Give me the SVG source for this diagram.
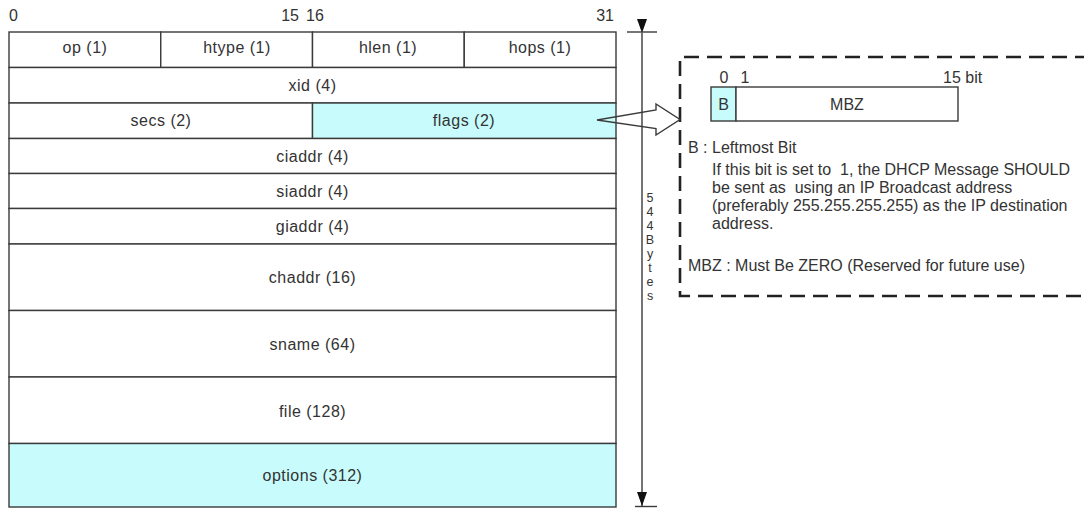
<svg xmlns="http://www.w3.org/2000/svg" width="1084" height="508" viewBox="0 0 1084 508">
<style>
text{font-family:"Liberation Sans",Arial,sans-serif;fill:#333}
.t{font-size:16px;letter-spacing:0.5px;text-anchor:middle}
.s{font-size:16px}
.h{font-size:16px}
.v{font-size:12.5px;text-anchor:middle}
.cell{fill:#fff;stroke:#3a3a3a;stroke-width:1.4}
.cy{fill:#c8fcfc;stroke:#3a3a3a;stroke-width:1.4}
.ln{stroke:#3a3a3a;stroke-width:1.4;fill:none}
.dash{stroke:#222;stroke-width:2.6;fill:none}
</style>
<defs>
<marker id="ah" viewBox="0 0 14 12" refX="14" refY="6" markerWidth="14" markerHeight="12" markerUnits="userSpaceOnUse" orient="auto">
<path d="M0,1 L14,6 L0,11 Z" fill="#111"/>
</marker>
</defs>
<rect width="1084" height="508" fill="#fff"/>

<g id="bit-labels">
<text class="h" x="9" y="21">0</text>
<text class="h" x="299" y="21" text-anchor="end">15</text>
<text class="h" x="306" y="21">16</text>
<text class="h" x="614" y="21" text-anchor="end">31</text>
</g>

<g id="row-op">
<rect class="cell" x="9" y="32" width="151.75" height="35.5"/>
<text class="t" x="85" y="53">op (1)</text>
</g>
<g id="row-htype">
<rect class="cell" x="160.75" y="32" width="151.75" height="35.5"/>
<text class="t" x="237" y="53">htype (1)</text>
</g>
<g id="row-hlen">
<rect class="cell" x="312.5" y="32" width="151.75" height="35.5"/>
<text class="t" x="388" y="53">hlen (1)</text>
</g>
<g id="row-hops">
<rect class="cell" x="464.25" y="32" width="151.75" height="35.5"/>
<text class="t" x="540" y="53">hops (1)</text>
</g>
<g id="row-xid">
<rect class="cell" x="9" y="67.5" width="607" height="35.5"/>
<text class="t" x="312.5" y="91">xid (4)</text>
</g>
<g id="row-secs">
<rect class="cell" x="9" y="103" width="303.5" height="35.5"/>
<text class="t" x="161" y="126">secs (2)</text>
</g>
<g id="row-flags">
<rect class="cy" x="312.5" y="103" width="303.5" height="35.5"/>
<text class="t" x="464" y="126">flags (2)</text>
</g>
<g id="row-ciaddr">
<rect class="cell" x="9" y="138.5" width="607" height="35"/>
<text class="t" x="312.5" y="161.5">ciaddr (4)</text>
</g>
<g id="row-siaddr">
<rect class="cell" x="9" y="173.5" width="607" height="35"/>
<text class="t" x="312.5" y="196.5">siaddr (4)</text>
</g>
<g id="row-giaddr">
<rect class="cell" x="9" y="208.5" width="607" height="35.5"/>
<text class="t" x="312.5" y="231.5">giaddr (4)</text>
</g>
<g id="row-chaddr">
<rect class="cell" x="9" y="244" width="607" height="66.5"/>
<text class="t" x="312.5" y="283">chaddr (16)</text>
</g>
<g id="row-sname">
<rect class="cell" x="9" y="310.5" width="607" height="66.5"/>
<text class="t" x="312.5" y="350">sname (64)</text>
</g>
<g id="row-file">
<rect class="cell" x="9" y="377" width="607" height="66.5"/>
<text class="t" x="312.5" y="416.5">file (128)</text>
</g>
<g id="row-options">
<rect class="cy" x="9" y="443.5" width="607" height="63.5"/>
<text class="t" x="312.5" y="480.5">options (312)</text>
</g>

<g id="size-dimension">
<line class="ln" x1="627" y1="32" x2="657" y2="32"/>
<line class="ln" x1="635" y1="506.5" x2="657" y2="506.5"/>
<text class="v" x="650" y="202">5</text>
<text class="v" x="650" y="216">4</text>
<text class="v" x="650" y="230">4</text>
<text class="v" x="650" y="244">B</text>
<text class="v" x="650" y="258">y</text>
<text class="v" x="650" y="272">t</text>
<text class="v" x="650" y="286">e</text>
<text class="v" x="650" y="300">s</text>
</g>

<g id="flags-detail">
<path class="dash" d="M1090,57 H680 V296 H1090" stroke-dasharray="15 8"/>
<text class="s" x="724" y="83" text-anchor="middle">0</text>
<text class="s" x="745" y="83" text-anchor="middle">1</text>
<text class="s" x="943" y="83">15 bit</text>
<rect class="cy" x="711" y="87" width="25" height="34"/>
<rect class="cell" x="736" y="87" width="222" height="34"/>
<text class="s" x="723.5" y="109.5" text-anchor="middle">B</text>
<text class="s" x="847" y="109.5" text-anchor="middle">MBZ</text>
<text class="s" x="688" y="153">B : Leftmost Bit</text>
<text class="s" x="712" y="175" xml:space="preserve">If this bit is set to  1, the DHCP Message SHOULD</text>
<text class="s" x="712" y="193" xml:space="preserve">be sent as  using an IP Broadcast address</text>
<text class="s" x="712" y="211">(preferably 255.255.255.255) as the IP destination</text>
<text class="s" x="712" y="229">address.</text>
<text class="s" x="688" y="271">MBZ : Must Be ZERO (Reserved for future use)</text>
</g>

<g id="connectors">
<line class="ln" x1="642" y1="33" x2="642" y2="506" marker-start="url(#ah)" marker-end="url(#ah)"/>
<path class="ln" d="M597,120 L656,110 L656,104 L680,119.5 L656,135 L656,128.5 Z"/>
</g>
</svg>
